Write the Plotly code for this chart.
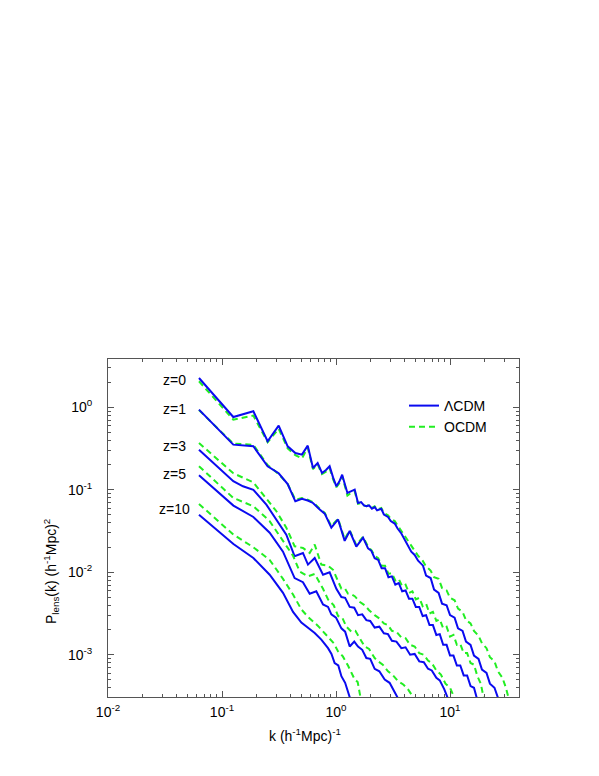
import plotly.graph_objects as go

# (log10 k, log10 P) pairs, one list per model and redshift
lcdm_z0 = [(-1.202, 0.355), (-0.901, -0.118), (-0.725, -0.049), (-0.600, -0.412), (-0.503, -0.223),
           (-0.424, -0.473), (-0.357, -0.554), (-0.299, -0.574), (-0.248, -0.465), (-0.202, -0.736),
           (-0.161, -0.675), (-0.123, -0.796), (-0.088, -0.760), (-0.056, -0.715), (-0.026, -0.850),
           (0.003, -0.958), (0.029, -0.900), (0.054, -0.817), (0.077, -0.930), (0.100, -1.039),
           (0.130, -1.020), (0.164, -0.998), (0.193, -1.160), (0.220, -1.150), (0.245, -1.190),
           (0.266, -1.200), (0.290, -1.190), (0.315, -1.230), (0.339, -1.210), (0.360, -1.250),
           (0.397, -1.230), (0.420, -1.300), (0.456, -1.330), (0.480, -1.380), (0.515, -1.410),
           (0.540, -1.470), (0.573, -1.530), (0.600, -1.600), (0.632, -1.670), (0.660, -1.750),
           (0.690, -1.790), (0.720, -1.860), (0.763, -1.920), (0.790, -2.040), (0.830, -2.070),
           (0.860, -2.210), (0.900, -2.250), (0.930, -2.380), (0.970, -2.400), (1.000, -2.520),
           (1.040, -2.550), (1.070, -2.680), (1.110, -2.710), (1.140, -2.840), (1.180, -2.880),
           (1.210, -3.010), (1.250, -3.050), (1.280, -3.180), (1.320, -3.220), (1.350, -3.350),
           (1.390, -3.400), (1.420, -3.520), (1.460, -3.590)]
ocdm_z0 = [(-1.202, 0.315), (-0.901, -0.150), (-0.725, -0.101), (-0.600, -0.424), (-0.503, -0.260),
           (-0.424, -0.500), (-0.357, -0.580), (-0.299, -0.620), (-0.248, -0.490), (-0.202, -0.750),
           (-0.161, -0.690), (-0.123, -0.810), (-0.088, -0.780), (-0.056, -0.740), (-0.026, -0.870),
           (0.003, -0.970), (0.029, -0.920), (0.054, -0.840), (0.077, -0.950), (0.100, -1.070),
           (0.130, -1.040), (0.164, -1.020), (0.193, -1.170), (0.220, -1.160), (0.245, -1.190),
           (0.266, -1.200), (0.290, -1.180), (0.315, -1.220), (0.339, -1.200), (0.360, -1.240),
           (0.397, -1.220), (0.420, -1.280), (0.456, -1.310), (0.480, -1.350), (0.515, -1.380),
           (0.540, -1.430), (0.573, -1.490), (0.600, -1.550), (0.632, -1.610), (0.660, -1.680),
           (0.690, -1.730), (0.720, -1.800), (0.760, -1.860), (0.790, -1.930), (0.830, -1.980),
           (0.860, -2.060), (0.900, -2.080), (0.930, -2.190), (0.970, -2.220), (1.000, -2.310),
           (1.040, -2.340), (1.070, -2.440), (1.110, -2.480), (1.140, -2.580), (1.180, -2.620),
           (1.210, -2.710), (1.250, -2.770), (1.280, -2.860), (1.320, -2.920), (1.350, -3.030),
           (1.390, -3.080), (1.420, -3.200), (1.460, -3.280), (1.490, -3.400), (1.520, -3.560)]

lcdm_z1 = [(-1.202, -0.029), (-0.901, -0.453), (-0.725, -0.473), (-0.600, -0.716), (-0.503, -0.800),
           (-0.424, -0.930), (-0.357, -1.140), (-0.299, -1.110), (-0.248, -1.130), (-0.202, -1.160),
           (-0.143, -1.240), (-0.099, -1.290), (-0.041, -1.460), (0.018, -1.360), (0.076, -1.620),
           (0.120, -1.500), (0.178, -1.690), (0.237, -1.580), (0.281, -1.710), (0.310, -1.740),
           (0.339, -1.830), (0.370, -1.850), (0.400, -1.950), (0.430, -1.950), (0.460, -2.060),
           (0.490, -2.050), (0.520, -2.150), (0.550, -2.130), (0.580, -2.230), (0.610, -2.220),
           (0.640, -2.320), (0.670, -2.320), (0.700, -2.420), (0.730, -2.420), (0.760, -2.530),
           (0.790, -2.520), (0.820, -2.640), (0.850, -2.640), (0.880, -2.760), (0.910, -2.750),
           (0.940, -2.880), (0.970, -2.880), (1.000, -3.010), (1.030, -3.010), (1.060, -3.130),
           (1.090, -3.130), (1.120, -3.250), (1.150, -3.250), (1.180, -3.380), (1.210, -3.400),
           (1.240, -3.550)]
ocdm_z1 = [(-1.202, -0.035), (-0.901, -0.441), (-0.725, -0.455), (-0.600, -0.700), (-0.503, -0.810),
           (-0.424, -0.930), (-0.357, -1.120), (-0.299, -1.100), (-0.248, -1.120), (-0.202, -1.150),
           (-0.143, -1.230), (-0.099, -1.280), (-0.041, -1.440), (0.018, -1.350), (0.076, -1.600),
           (0.120, -1.490), (0.178, -1.670), (0.237, -1.570), (0.281, -1.690), (0.310, -1.730),
           (0.339, -1.800), (0.370, -1.830), (0.400, -1.920), (0.430, -1.920), (0.460, -2.020),
           (0.490, -2.010), (0.520, -2.100), (0.550, -2.080), (0.580, -2.170), (0.610, -2.150),
           (0.640, -2.250), (0.670, -2.230), (0.700, -2.330), (0.730, -2.310), (0.760, -2.410),
           (0.790, -2.380), (0.820, -2.500), (0.850, -2.480), (0.880, -2.590), (0.910, -2.570),
           (0.940, -2.680), (0.970, -2.660), (1.000, -2.780), (1.030, -2.760), (1.060, -2.880),
           (1.090, -2.870), (1.120, -2.980), (1.150, -2.980), (1.180, -3.100), (1.210, -3.120),
           (1.240, -3.260), (1.270, -3.350), (1.300, -3.560)]

lcdm_z3 = [(-1.202, -0.514), (-0.901, -0.897), (-0.816, -0.958), (-0.725, -1.000), (-0.611, -1.180),
           (-0.523, -1.360), (-0.436, -1.544), (-0.363, -1.806), (-0.290, -1.766), (-0.246, -1.907),
           (-0.187, -1.827), (-0.114, -2.030), (-0.056, -2.000), (0.003, -2.200), (0.047, -2.300),
           (0.080, -2.310), (0.120, -2.420), (0.160, -2.430), (0.193, -2.520), (0.230, -2.510),
           (0.266, -2.580), (0.300, -2.590), (0.339, -2.670), (0.380, -2.660), (0.420, -2.740),
           (0.456, -2.750), (0.490, -2.830), (0.530, -2.840), (0.573, -2.920), (0.610, -2.910),
           (0.650, -3.000), (0.690, -2.990), (0.730, -3.080), (0.770, -3.090), (0.807, -3.170),
           (0.840, -3.190), (0.880, -3.280), (0.910, -3.310), (0.950, -3.420), (0.990, -3.560)]
ocdm_z3 = [(-1.202, -0.433), (-0.901, -0.800), (-0.725, -0.910), (-0.611, -1.100), (-0.523, -1.260),
           (-0.436, -1.460), (-0.363, -1.685), (-0.290, -1.705), (-0.231, -1.766), (-0.187, -1.665),
           (-0.129, -1.907), (-0.070, -1.920), (-0.026, -1.970), (0.047, -2.200), (0.080, -2.200),
           (0.105, -2.260), (0.140, -2.270), (0.164, -2.290), (0.210, -2.360), (0.252, -2.400),
           (0.290, -2.460), (0.339, -2.520), (0.380, -2.560), (0.420, -2.620), (0.456, -2.640),
           (0.490, -2.710), (0.530, -2.720), (0.573, -2.790), (0.610, -2.800), (0.650, -2.880),
           (0.690, -2.900), (0.730, -2.980), (0.770, -3.000), (0.807, -3.070), (0.840, -3.100),
           (0.880, -3.190), (0.920, -3.240), (0.960, -3.350), (1.000, -3.400), (1.050, -3.560)]

lcdm_z5 = [(-1.202, -0.824), (-0.900, -1.192), (-0.725, -1.330), (-0.582, -1.520), (-0.465, -1.750),
           (-0.363, -2.070), (-0.290, -2.120), (-0.231, -2.260), (-0.173, -2.230), (-0.114, -2.390),
           (-0.070, -2.420), (-0.041, -2.510), (0.000, -2.550), (0.047, -2.680), (0.080, -2.720),
           (0.120, -2.900), (0.160, -2.840), (0.193, -2.900), (0.230, -2.940), (0.266, -3.040),
           (0.300, -3.050), (0.339, -3.170), (0.380, -3.200), (0.427, -3.300), (0.470, -3.340),
           (0.515, -3.450), (0.560, -3.570)]
ocdm_z5 = [(-1.202, -0.715), (-0.901, -1.099), (-0.725, -1.200), (-0.582, -1.380), (-0.465, -1.620),
           (-0.377, -1.800), (-0.319, -1.990), (-0.246, -2.050), (-0.187, -2.020), (-0.114, -2.200),
           (-0.070, -2.330), (-0.020, -2.400), (0.018, -2.530), (0.055, -2.550), (0.091, -2.660),
           (0.134, -2.720), (0.170, -2.710), (0.193, -2.760), (0.230, -2.840), (0.251, -2.900),
           (0.290, -2.930), (0.339, -3.040), (0.370, -3.080), (0.410, -3.120), (0.456, -3.200),
           (0.500, -3.250), (0.544, -3.320), (0.590, -3.360), (0.632, -3.420), (0.700, -3.560)]

lcdm_z10 = [(-1.202, -1.302), (-0.900, -1.657), (-0.725, -1.827), (-0.582, -2.030), (-0.465, -2.250),
            (-0.377, -2.480), (-0.304, -2.610), (-0.246, -2.675), (-0.187, -2.736), (-0.129, -2.816),
            (-0.070, -2.920), (-0.040, -2.990), (-0.012, -3.100), (0.020, -3.130), (0.047, -3.260),
            (0.080, -3.340), (0.120, -3.520), (0.140, -3.600)]
ocdm_z10 = [(-1.202, -1.172), (-0.900, -1.544), (-0.725, -1.697), (-0.582, -1.850), (-0.465, -2.080),
            (-0.377, -2.270), (-0.304, -2.450), (-0.246, -2.540), (-0.158, -2.650), (-0.070, -2.790),
            (-0.020, -2.860), (0.018, -2.960), (0.060, -3.020), (0.105, -3.130), (0.164, -3.300),
            (0.190, -3.330), (0.220, -3.560)]

redshift_labels = ["z=0", "z=1", "z=3", "z=5", "z=10"]
x_tick_vals = [0.01, 0.1, 1, 10]
x_tick_text = ["10<sup>-2</sup>", "10<sup>-1</sup>", "10<sup>0</sup>", "10<sup>1</sup>"]
y_tick_vals = [0.001, 0.01, 0.1, 1]
y_tick_text = ["10<sup>-3</sup>", "10<sup>-2</sup>", "10<sup>-1</sup>", "10<sup>0</sup>"]

blue = "#0a0af0"
green = "#22ee22"
axis_col = "#555555"

curves = [(lcdm_z0, ocdm_z0), (lcdm_z1, ocdm_z1), (lcdm_z3, ocdm_z3),
          (lcdm_z5, ocdm_z5), (lcdm_z10, ocdm_z10)]

fig = go.Figure()
for i, (lc, oc) in enumerate(curves):
    fig.add_trace(go.Scatter(
        x=[10 ** a for a, b in oc], y=[10 ** b for a, b in oc], mode="lines",
        name="OCDM", showlegend=(i == 0), legendrank=2,
        line=dict(color=green, width=2, dash="6px,4px")))
    fig.add_trace(go.Scatter(
        x=[10 ** a for a, b in lc], y=[10 ** b for a, b in lc], mode="lines",
        name="\u039bCDM", showlegend=(i == 0), legendrank=1,
        line=dict(color=blue, width=2)))

# z labels to the left of each pair of curves (pixel positions)
label_y_px = [371.7, 401.3, 438, 466, 500.7]
for txt, py in zip(redshift_labels, label_y_px):
    fig.add_annotation(text=txt, xref="paper", yref="paper",
                       x=(166 - 100) / 411, y=(689 - py) / 338,
                       xanchor="center", yanchor="middle", showarrow=False,
                       font=dict(size=14))

fig.add_annotation(text="k (h<sup>-1</sup>Mpc)<sup>-1</sup>", xref="paper", yref="paper",
                   x=0.48, y=(689 - 727) / 338, xanchor="center", yanchor="middle",
                   showarrow=False, font=dict(size=14))
fig.add_annotation(text="P<sub>lens</sub>(k) (h<sup>-1</sup>Mpc)<sup>2</sup>",
                   xref="paper", yref="paper", textangle=-90,
                   x=(43 - 100) / 411, y=(689 - 564) / 338, xanchor="center", yanchor="middle",
                   showarrow=False, font=dict(size=14))

axis_style = dict(type="log", ticks="inside", ticklen=6, tickwidth=1, tickcolor=axis_col,
                  showline=True, linecolor=axis_col, linewidth=1, mirror="allticks",
                  showgrid=False, zeroline=False,
                  minor=dict(ticks="inside", ticklen=3, tickwidth=1, tickcolor=axis_col,
                             dtick="D1", showgrid=False))

fig.update_xaxes(range=[-2, 1.605], tickmode="array", tickvals=x_tick_vals, ticktext=x_tick_text,
                 ticklabelstandoff=2, **axis_style)
fig.update_yaxes(range=[-3.512, 0.585], tickmode="array", tickvals=y_tick_vals, ticktext=y_tick_text,
                 ticklabelstandoff=12, **axis_style)

fig.update_layout(
    width=599, height=776,
    margin=dict(l=100, r=88, t=351, b=87),
    plot_bgcolor="white", paper_bgcolor="white",
    font=dict(family="Liberation Sans, Arial, sans-serif", size=14, color="black"),
    legend=dict(x=(396 - 100) / 411, y=(689 - 382) / 338, xanchor="left", yanchor="top",
                bgcolor="rgba(0,0,0,0)", font=dict(size=14), tracegroupgap=0),
)

fig.write_html("out.html")
